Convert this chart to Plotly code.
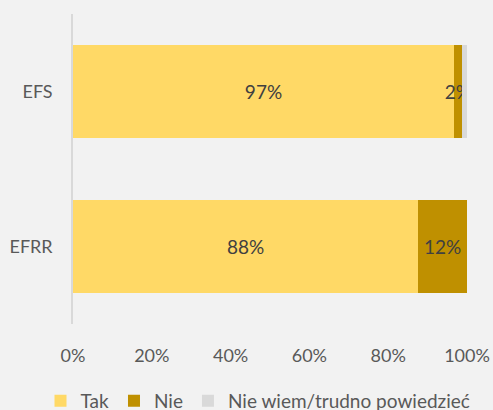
import plotly.graph_objects as go

categories = ["EFS", "EFRR"]
tak = [0.967, 0.876]
nie = [0.02, 0.124]
nie_wiem = [0.013, 0.0]
tak_labels = ["97%", "88%"]
nie_labels = ["2%", "12%"]
nie_wiem_labels = ["", ""]
x_ticks = [0, 0.2, 0.4, 0.6, 0.8, 1.0]
x_tick_labels = ["0%", "20%", "40%", "60%", "80%", "100%"]

font_family = "Lato, 'Open Sans', sans-serif"
text_color = "#595959"

fig = go.Figure()
series = [
    ("Tak", tak, tak_labels, "#FFD966"),
    ("Nie", nie, nie_labels, "#BF9000"),
    ("Nie wiem/trudno powiedzieć", nie_wiem, nie_wiem_labels, "#D9D9D9"),
]
for name, vals, labels, color in series:
    fig.add_trace(go.Bar(
        name=name, y=categories, x=vals, orientation="h",
        marker=dict(color=color, line=dict(width=0)),
        text=labels, textposition="inside", insidetextanchor="middle", textangle=0,
        textfont=dict(color="#404040", size=19, family=font_family),
        hoverinfo="skip",
    ))

fig.update_layout(
    barmode="stack",
    bargap=0.4,
    width=493, height=410,
    margin=dict(l=73, r=26, t=14, b=86, autoexpand=False),
    paper_bgcolor="#F2F2F2", plot_bgcolor="#F2F2F2",
    font=dict(family=font_family, size=18, color=text_color),
    uniformtext=dict(minsize=19, mode="show"),
    showlegend=True,
    legend=dict(orientation="h", xref="paper", yref="paper",
                x=-0.0825, xanchor="left", y=-0.187, yanchor="top",
                font=dict(size=19, color=text_color), traceorder="normal",
                itemwidth=30, bgcolor="rgba(0,0,0,0)"),
    xaxis=dict(range=[0, 1], tickvals=x_ticks, ticktext=x_tick_labels,
               showgrid=False, zeroline=False, showline=False, automargin=False,
               ticks="outside", ticklen=15, tickcolor="rgba(0,0,0,0)",
               tickfont=dict(size=18, color=text_color), fixedrange=True),
    yaxis=dict(categoryorder="array", categoryarray=categories, autorange="reversed",
               showgrid=False, zeroline=False, showline=True, linecolor="#D9D9D9", linewidth=1.5,
               automargin=False,
               ticks="outside", ticklen=15, tickcolor="rgba(0,0,0,0)",
               tickfont=dict(size=18, color=text_color), fixedrange=True),
)

fig.write_html("out.html", config={"displayModeBar": False},
               post_script="document.body.style.margin='0';")
